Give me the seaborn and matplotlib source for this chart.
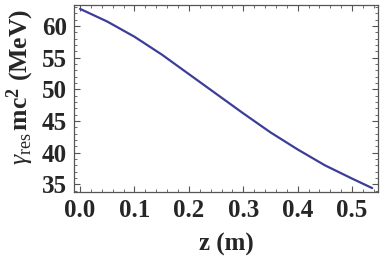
import matplotlib
matplotlib.use("Agg")
import matplotlib.pyplot as plt
import seaborn as sns
import pandas as pd
from matplotlib.ticker import MultipleLocator

# values
z = [0.0, 0.05, 0.1, 0.15, 0.2, 0.25, 0.3, 0.35, 0.4, 0.45, 0.5, 0.537]
gamma_res = [62.7, 60.7, 58.3, 55.5, 52.4, 49.3, 46.2, 43.2, 40.5, 38.0, 35.9, 34.4]

xticks = [0.0, 0.1, 0.2, 0.3, 0.4, 0.5]
yticks = [35, 40, 45, 50, 55, 60]

df = pd.DataFrame({"z": z, "gamma": gamma_res})

sns.set_style("ticks")
plt.rcParams["font.family"] = ["Liberation Serif", "DejaVu Serif"]
plt.rcParams["mathtext.fontset"] = "custom"
plt.rcParams["mathtext.rm"] = "Liberation Serif"
plt.rcParams["mathtext.it"] = "Liberation Serif:italic"
plt.rcParams["mathtext.bf"] = "Liberation Serif:bold"

fig = plt.figure(figsize=(3.82, 2.68), dpi=100)
ax = fig.add_axes([0.194, 0.284, 0.796, 0.697])

sns.lineplot(data=df, x="z", y="gamma", ax=ax, color="#3d3d99", linewidth=1.6)

ax.set_xlim(-0.011, 0.548)
ax.set_ylim(33.8, 63.3)
ax.set_xticks(xticks)
ax.set_xticklabels([f"{t:.1f}" for t in xticks])
ax.set_yticks(yticks)
ax.xaxis.set_minor_locator(MultipleLocator(0.02))
ax.yaxis.set_minor_locator(MultipleLocator(1))

for s in ax.spines.values():
    s.set_color("#555555")
    s.set_linewidth(0.9)

ax.tick_params(which="both", direction="in", top=True, right=True, color="#555555")
ax.tick_params(which="major", length=4.5, width=0.8, labelsize=18, pad=5)
ax.tick_params(which="minor", length=2.5, width=0.6)
for lab in ax.get_xticklabels() + ax.get_yticklabels():
    lab.set_fontweight("bold")

ax.set_xlabel("z (m)", fontsize=18, fontweight="bold", labelpad=8)
ax.set_ylabel(r"$\gamma_{\rm res}\,\mathbf{mc^2}$ (MeV)", fontsize=18.5,
              fontweight="bold")
ax.yaxis.set_label_coords(-0.125, 0.56)

fig.savefig("out.png", dpi=100)
